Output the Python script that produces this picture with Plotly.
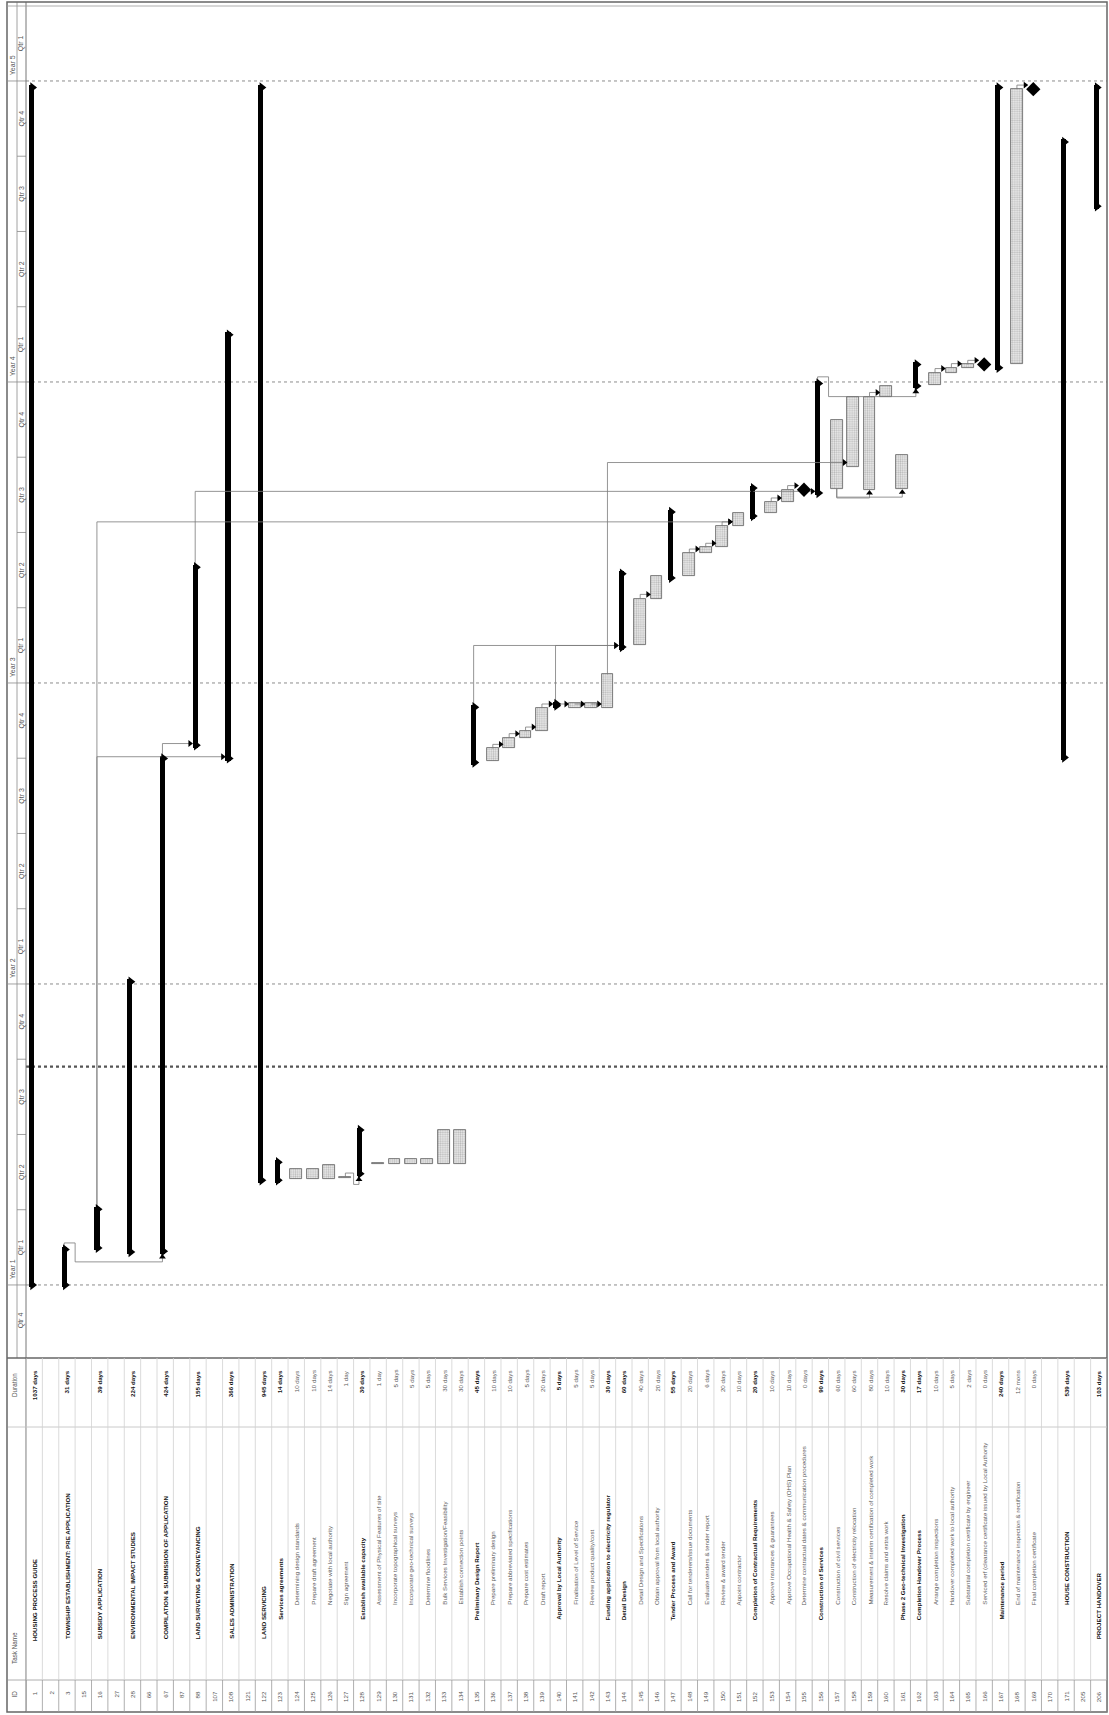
import plotly.graph_objects as go

# ---------------- data ----------------
task_ids = [1, 2, 3, 15, 16, 27, 28, 66, 67, 87, 88, 107, 108, 121, 122, 123, 124, 125,
            126, 127, 128, 129, 130, 131, 132, 133, 134, 135, 136, 137, 138, 139, 140, 141,
            142, 143, 144, 145, 146, 147, 148, 149, 150, 151, 152, 153, 154, 155, 156, 157,
            158, 159, 160, 161, 162, 163, 164, 165, 166, 167, 168, 169, 170, 171, 205, 206]

task_names = [
    "HOUSING PROCESS GUIDE", "", "TOWNSHIP ESTABLISHMENT: PRE APPLICATION", "",
    "SUBSIDY APPLICATION", "", "ENVIRONMENTAL IMPACT STUDIES", "",
    "COMPILATION & SUBMISSION OF APPLICATION", "", "LAND SURVEYING & CONVEYANCING", "",
    "SALES ADMINISTRATION", "", "LAND SERVICING", "Services agreements",
    "Determining design standards", "Prepare draft agreement", "Negotiate with local authority",
    "Sign agreement", "Establish available capacity", "Assessment of Physical Features of site",
    "Incorporate topographical surveys", "Incorporate geo-technical surveys", "Determine floodlines",
    "Bulk Services Investigation/Feasibility", "Establish connection points",
    "Preliminary Design Report", "Prepare preliminary design", "Prepare abbreviated specifications",
    "Prepare cost estimates", "Draft report", "Approval by Local Authority",
    "Finalisation of Level of Service", "Review product quality/cost",
    "Funding application to electricity regulator", "Detail Design",
    "Detail Design and Specifications", "Obtain approval from local authority",
    "Tender Process and Award", "Call for tenderers/issue documents",
    "Evaluate tenders & tender report", "Review & award tender", "Appoint contractor",
    "Completion of Contractual Requirements", "Approve insurances & guarantees",
    "Approve Occupational Health & Safety (OHS) Plan",
    "Determine contractual dates & communication procedures", "Construction of Services",
    "Construction of civil services", "Construction of electricity relocation",
    "Measurement & interim certification of completed work", "Resolve claims and extra work",
    "Phase 2 Geo-technical Investigation", "Completion Handover Process",
    "Arrange completion inspections", "Handover completed work to local authority",
    "Substantial completion certificate by engineer",
    "Serviced erf (clearance certificate issued by Local Authority", "Maintenance period",
    "End of maintenance inspection & rectification", "Final completion certificate", "",
    "HOUSE CONSTRUCTION", "", "PROJECT HANDOVER"]

durations = [
    "1037 days", "", "31 days", "", "39 days", "", "224 days", "", "424 days", "", "155 days", "",
    "366 days", "", "945 days", "14 days", "10 days", "10 days", "14 days", "1 day", "30 days",
    "1 day", "5 days", "5 days", "5 days", "30 days", "30 days", "45 days", "10 days", "10 days",
    "5 days", "20 days", "5 days", "5 days", "5 days", "30 days", "60 days", "40 days", "20 days",
    "55 days", "20 days", "6 days", "20 days", "10 days", "20 days", "10 days", "10 days", "0 days",
    "90 days", "60 days", "60 days", "80 days", "10 days", "30 days", "17 days", "10 days", "5 days",
    "2 days", "0 days", "240 days", "12 mons", "0 days", "", "539 days", "", "103 days"]

# S = summary, T = task, M = milestone, "" = blank row
task_kinds = [
    "S", "", "S", "", "S", "", "S", "", "S", "", "S", "", "S", "", "S", "S", "T", "T", "T", "T", "S",
    "T", "T", "T", "T", "T", "T", "S", "T", "T", "T", "T", "S", "T", "T", "T", "S", "T", "T", "S",
    "T", "T", "T", "T", "S", "T", "T", "M", "S", "T", "T", "T", "T", "T", "S", "T", "T", "T", "M",
    "S", "T", "M", "", "S", "", "S"]

outline_levels = [
    0, 1, 1, 1, 1, 1, 1, 1, 1, 1, 1, 1, 1, 1, 1, 2, 3, 3, 3, 3, 2, 3, 3, 3, 3, 3, 3, 2, 3, 3, 3, 3,
    2, 3, 3, 2, 2, 3, 3, 2, 3, 3, 3, 3, 2, 3, 3, 3, 2, 3, 3, 3, 3, 2, 2, 3, 3, 3, 3, 2, 3, 3, 1, 3,
    1, 1]

# start / finish in calendar days from the start of "Year 1"
start_days = [
    -3, None, -3, None, 42, None, 37, None, 38, None, 652, None, 636, None, 124, 124, 128, 128, 128,
    129.5, 132, 147, 146.5, 146.5, 146.5, 146.5, 146.5, 631, 636, 651, 664, 672, 700, 700, 700, 700,
    771, 776, 833, 855, 860, 888, 895, 921, 930, 937, 950, 965, 958, 966, 993, 965, 1078, 966, 1088,
    1092, 1107, 1113, 1117, 1110, 1117, 1451, None, 637, None, 1306]
finish_days = [
    1456, None, 46, None, 95, None, 371, None, 642, None, 874, None, 1156, None, 1456, 152, 141, 141,
    146, 130.8, 191, 148.4, 153, 153, 153, 188, 188, 704, 651, 664, 672, 700, 708, 706, 706, 741,
    866, 833, 860, 941, 888, 895, 921, 937, 970, 950, 965, 965, 1097, 1050, 1078, 1078, 1091, 1007,
    1120, 1107, 1113, 1117, 1117, 1456, 1451, 1451, None, 1390, None, 1456]

# dependency links: (predecessor id, successor id, routing style)
links = [
    (3, 67, "FSA"), (16, 108, "FS"), (16, 151, "FS"), (67, 88, "FS"), (88, 156, "FS"),
    (127, 128, "FSA"), (135, 144, "FS"), (140, 144, "FS"), (143, 158, "FS"),
    (136, 137, "FS"), (137, 138, "FS"), (138, 139, "FS"), (139, 140, "FS"),
    (140, 141, "SSH"), (141, 142, "SSH"), (142, 143, "SSH"),
    (145, 146, "FS"), (148, 149, "FS"), (149, 150, "FS"), (150, 151, "FS"),
    (153, 154, "FS"), (154, 155, "FS"), (159, 160, "FS"), (156, 162, "FSA"),
    (163, 164, "FS"), (164, 165, "FS"), (165, 166, "FS"), (168, 169, "FS"),
    (157, 159, "SS"), (157, 161, "SS")]

year_labels = ["Year 1", "Year 2", "Year 3", "Year 4", "Year 5"]
qtr_labels = ["Qtr 1", "Qtr 2", "Qtr 3", "Qtr 4"]
status_day = 265
header_labels = ["ID", "Task Name", "Duration"]

# ---------------- geometry ----------------
W, H = 1109, 1715
PL, PR, PT, PB = 26, 1107, 5, 1356
DAY_MIN, DAY_MAX = -86.2, 1553.2
YEAR = 365.25
NROWS = len(task_ids)
FONT = "Liberation Sans, Arial, sans-serif"


def pxx(p):
    return (p - PL) / (PR - PL)


def pxy(p):
    return (PB - p) / (PB - PT)


row_of = {t: i for i, t in enumerate(task_ids)}

fig = go.Figure()

# ---------------- links ----------------
STUB = 5


def left_edge(i, k):
    return i - 0.32 if k in ("S", "M") else i - 0.36


def center(i, k):
    return i - 0.17 if k == "S" else i


lx, ly, arx, ary, aux, auy = [], [], [], [], [], []
for p, s, style in links:
    ip, js = row_of[p], row_of[s]
    kp, ks = task_kinds[ip], task_kinds[js]
    sp, fp, ss = start_days[ip], finish_days[ip], start_days[js]
    xp, xl, xc = center(ip, kp), left_edge(js, ks), center(js, ks)
    if style == "FS":
        yt = max(fp, ss) + STUB
        lx += [xp, xp, xl - 0.15, None]
        ly += [fp, yt, yt, None]
        arx.append(xl - 0.17)
        ary.append(yt)
    elif style == "SSH":
        yt = ss + STUB
        lx += [xp, xl - 0.15, None]
        ly += [yt, yt, None]
        arx.append(xl - 0.17)
        ary.append(yt)
    elif style == "FSA":
        yt, yb, xm = fp + STUB, ss - 2 * STUB, ip + 0.5
        lx += [xp, xp, xm, xm, xc, xc, None]
        ly += [fp, yt, yt, yb, yb, ss - 3, None]
        aux.append(xc)
        auy.append(ss - 4)
    else:  # SS
        yb = min(sp, ss) - 2 * STUB
        lx += [xp, xp, xc, xc, None]
        ly += [sp, yb, yb, ss - 3, None]
        aux.append(xc)
        auy.append(ss - 4)

fig.add_trace(go.Scatter(x=lx, y=ly, mode="lines", line=dict(color="#7a7a7a", width=0.8),
                         hoverinfo="skip"))

# ---------------- bars ----------------
sx, sb, sy, cx, cy = [], [], [], [], []
tx, tb, ty = [], [], []
mx, my = [], []
for i, k in enumerate(task_kinds):
    if k == "S":
        sx.append(i)
        sb.append(start_days[i])
        sy.append(finish_days[i] - start_days[i])
        cx += [i - 0.1, i - 0.1]
        cy += [start_days[i] + 3, finish_days[i] - 3]
    elif k == "T":
        tx.append(i)
        tb.append(start_days[i])
        ty.append(finish_days[i] - start_days[i])
    elif k == "M":
        mx.append(i)
        my.append(start_days[i])

fig.add_trace(go.Bar(x=tx, y=ty, base=tb, width=0.72, offset=-0.36,
                     marker=dict(color="#e6e6e6", line=dict(color="#5e5e5e", width=0.8),
                                 pattern=dict(shape=".", fgcolor="#8a8a8a", bgcolor="#ececec",
                                              size=2.2, solidity=0.45)),
                     hoverinfo="skip"))
fig.add_trace(go.Bar(x=sx, y=sy, base=sb, width=0.31, offset=-0.32,
                     marker=dict(color="black", line=dict(width=0)), hoverinfo="skip"))
fig.add_trace(go.Scatter(x=cx, y=cy, mode="markers",
                         marker=dict(symbol="triangle-right", size=9, color="black",
                                     line=dict(width=0)), hoverinfo="skip"))
fig.add_trace(go.Scatter(x=mx, y=my, mode="markers",
                         marker=dict(symbol="diamond", size=11, color="black",
                                     line=dict(width=0)), hoverinfo="skip"))
fig.add_trace(go.Scatter(x=arx, y=ary, mode="markers",
                         marker=dict(symbol="triangle-right", size=6, color="black",
                                     line=dict(width=0)), hoverinfo="skip"))
fig.add_trace(go.Scatter(x=aux, y=auy, mode="markers",
                         marker=dict(symbol="triangle-up", size=6, color="black",
                                     line=dict(width=0)), hoverinfo="skip"))

shapes, annotations = [], []

# ---------------- gridlines ----------------
for k in range(5):
    d = k * YEAR
    shapes.append(dict(type="line", xref="paper", yref="y", x0=0, x1=1, y0=d, y1=d,
                       line=dict(color="#8c8c8c", width=1, dash="dot"), layer="below"))
shapes.append(dict(type="line", xref="paper", yref="y", x0=0, x1=1, y0=status_day, y1=status_day,
                   line=dict(color="#555555", width=2.2, dash="dot"), layer="below"))

# ---------------- timescale (left) ----------------
GRAY = "#8a8a8a"
for yr in range(0, 6):
    for q in range(4):
        qs = (yr - 1) * YEAR + q * YEAR / 4
        qe = qs + YEAR / 4
        lo, hi = max(qs, DAY_MIN), min(qe, DAY_MAX)
        if hi - lo < 5:
            continue
        if DAY_MIN < qs < DAY_MAX:
            shapes.append(dict(type="line", xref="paper", yref="y",
                               x0=pxx(8 if q == 0 else 17), x1=pxx(26), y0=qs, y1=qs,
                               line=dict(color=GRAY, width=0.8)))
        annotations.append(dict(x=pxx(21.8), y=(lo + hi) / 2, xref="paper", yref="y",
                                text=qtr_labels[q], textangle=-90, showarrow=False,
                                font=dict(family=FONT, size=7, color="#555"),
                                xanchor="center", yanchor="middle"))
        if q == 0 and 1 <= yr <= 5:
            annotations.append(dict(x=pxx(12.6), y=qs + 4, xref="paper", yref="y",
                                    text=year_labels[yr - 1], textangle=-90, showarrow=False,
                                    font=dict(family=FONT, size=7, color="#555"),
                                    xanchor="center", yanchor="bottom"))


def pline(x0, y0, x1, y1, color=GRAY, width=0.8):
    shapes.append(dict(type="line", xref="paper", yref="paper", x0=pxx(x0), x1=pxx(x1),
                       y0=pxy(y0), y1=pxy(y1), line=dict(color=color, width=width)))


pline(17, 2, 17, 1358)
pline(26, 2, 26, 1712, "#777", 1)
# outer frame
shapes.append(dict(type="rect", xref="paper", yref="paper", x0=pxx(7), x1=pxx(1107),
                   y0=pxy(1712), y1=pxy(2), line=dict(color="#666", width=1.5)))
pline(7, 6, 1107, 6, "#999", 0.8)

# ---------------- table ----------------
TOP, DUR_SPLIT, ID_SPLIT, BOT = 1358, 1427, 1680, 1712
pline(7, TOP, 1107, TOP, "#666", 1.5)
pline(8, DUR_SPLIT, 1107, DUR_SPLIT, "#bdbdbd", 0.8)
pline(8, ID_SPLIT, 1107, ID_SPLIT, "#9a9a9a", 0.8)
for k in range(NROWS + 1):
    shapes.append(dict(type="line", xref="x", yref="paper", x0=k - 0.5, x1=k - 0.5,
                       y0=pxy(TOP), y1=pxy(ID_SPLIT), line=dict(color="#d2d2d2", width=0.8)))
    shapes.append(dict(type="line", xref="x", yref="paper", x0=k - 0.5, x1=k - 0.5,
                       y0=pxy(ID_SPLIT), y1=pxy(BOT), line=dict(color="#9a9a9a", width=0.8)))

hdr_pos = [(1689, "top"), (1666, "bottom"), (1371, "top")]
for lab, (yp, anc) in zip(header_labels, hdr_pos):
    annotations.append(dict(x=pxx(14), y=pxy(yp), xref="paper", yref="paper", text=lab,
                            textangle=-90, showarrow=False,
                            font=dict(family=FONT, size=6.3, color="#555"),
                            xanchor="center", yanchor=anc))

name_bottom = {0: 1643, 1: 1641, 2: 1622, 3: 1607}
for i in range(NROWS):
    bold = task_kinds[i] == "S" or outline_levels[i] <= 2
    annotations.append(dict(x=i, y=pxy(1689), xref="x", yref="paper", text=str(task_ids[i]),
                            textangle=-90, showarrow=False,
                            font=dict(family=FONT, size=6.2, color="#555"),
                            xanchor="center", yanchor="top"))
    if task_names[i]:
        txt = f"<b>{task_names[i]}</b>" if bold else task_names[i]
        annotations.append(dict(x=i, y=pxy(name_bottom[outline_levels[i]]), xref="x",
                                yref="paper", text=txt, textangle=-90, showarrow=False,
                                font=dict(family=FONT, size=6.2,
                                          color="#111" if bold else "#5a5a5a"),
                                xanchor="center", yanchor="bottom"))
    if durations[i]:
        txt = f"<b>{durations[i]}</b>" if bold else durations[i]
        annotations.append(dict(x=i, y=pxy(1368), xref="x", yref="paper", text=txt,
                                textangle=-90, showarrow=False,
                                font=dict(family=FONT, size=6.2,
                                          color="#111" if bold else "#5a5a5a"),
                                xanchor="center", yanchor="top"))

fig.update_layout(
    width=W, height=H,
    margin=dict(l=PL, r=W - PR, t=PT, b=H - PB, autoexpand=False),
    plot_bgcolor="white", paper_bgcolor="white",
    showlegend=False, barmode="overlay", bargap=0,
    xaxis=dict(range=[-0.5, NROWS - 0.5], visible=False, fixedrange=True),
    yaxis=dict(range=[DAY_MIN, DAY_MAX], visible=False, fixedrange=True),
    shapes=shapes, annotations=annotations,
    font=dict(family=FONT),
)

fig.write_html(
    "out.html",
    config={"displayModeBar": False},
    post_script="document.body.style.margin='0';document.body.style.overflow='hidden';"
                "document.documentElement.style.overflow='hidden';",
)
